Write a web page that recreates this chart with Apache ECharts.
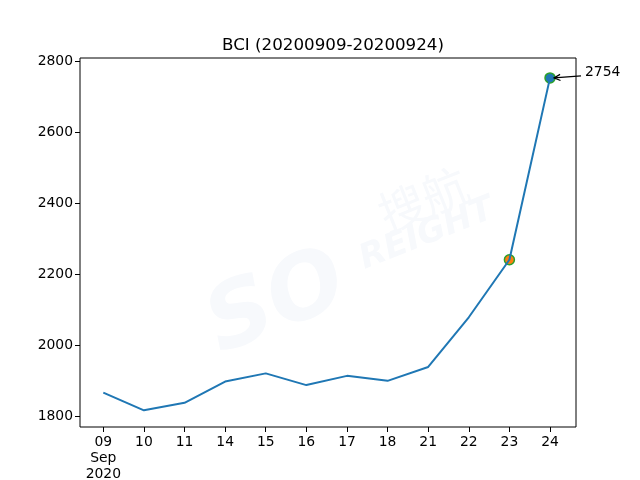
<!DOCTYPE html>
<html>
<head>
<meta charset="utf-8">
<script src="https://cdn.jsdelivr.net/npm/echarts@6/dist/echarts.min.js"></script>
<style>html,body{margin:0;padding:0;background:#fff;}#c{width:640px;height:480px;}</style>
</head>
<body>
<div id="c"></div>
<script>
const categories = ['09', '10', '11', '14', '15', '16', '17', '18', '21', '22', '23', '24'];
const bciValues = [1868, 1818, 1839, 1899, 1922, 1889, 1915, 1901, 1940, 2080, 2242, 2754];
const yTicks = [1800, 2000, 2200, 2400, 2600, 2800];
const highlightIdx = [10, 11];
const annotationText = '2754';

const chart = echarts.init(document.getElementById('c'), null, {renderer: 'canvas'});
const FONT = 'DejaVu Sans';
const xIdx = categories.map((_, i) => i);

const option = {
  animation: false,
  backgroundColor: '#fff',
  title: {
    text: 'BCI (20200909-20200924)',
    left: 328, top: 32, textAlign: 'center',
    textStyle: {fontFamily: FONT, fontSize: 16.7, fontWeight: 'normal', color: '#000'}
  },
  grid: {left: 80, right: 64, top: 58, bottom: 53, show: true, borderColor: '#000', borderWidth: 1, backgroundColor: 'transparent', containLabel: false, outerBoundsMode: 'none'},
  xAxis: {
    type: 'value', min: -0.574, max: 11.64,
    splitLine: {show: false},
    axisLine: {show: false, onZero: false},
    axisTick: {show: true, inside: false, length: 5, lineStyle: {color: '#000', width: 1}, customValues: xIdx},
    axisLabel: {
      customValues: xIdx, margin: 7, color: '#000', fontFamily: FONT, fontSize: 13.9, lineHeight: 16,
      formatter: v => { const i = Math.round(v); return i === 0 ? categories[i] + '\nSep\n2020' : categories[i]; }
    }
  },
  yAxis: {
    type: 'value', min: 1771, max: 2810,
    splitLine: {show: false},
    axisLine: {show: false, onZero: false},
    axisTick: {show: true, inside: false, length: 5, lineStyle: {color: '#000', width: 1}, customValues: yTicks},
    axisLabel: {customValues: yTicks, margin: 7, color: '#000', fontFamily: FONT, fontSize: 13.9, formatter: v => String(v)}
  },
  series: [
    {
      type: 'scatter', z: 1,
      data: highlightIdx.map(i => [i, bciValues[i]]),
      symbolSize: 10,
      itemStyle: {
        color: p => p.dataIndex === 0 ? '#ff7f0e' : '#1f77b4',
        borderColor: '#2ca02c', borderWidth: 1.5, opacity: 1
      }
    },
    {
      type: 'line', z: 2,
      data: bciValues.map((v, i) => [i, v]),
      showSymbol: false, symbol: 'none',
      lineStyle: {color: '#1f77b4', width: 2},
      clip: false
    }
  ]
};
chart.setOption(option);

const last = bciValues.length - 1;
const pt = chart.convertToPixel({gridIndex: 0}, [last, bciValues[last]]);
const sx = pt[0] + 31, sy = pt[1] - 2;
const ex = pt[0] + 4, ey = pt[1];
const ang = Math.atan2(ey - sy, ex - sx);
const ah = 7, aw = 0.45;
const wm = '#f7f9fc';
chart.setOption({
  graphic: [
    {type: 'text', x: 195, y: 290, rotation: 0.38, z: -10, style: {text: 'SO', fill: wm, font: 'italic bold 90px "DejaVu Sans"'}},
    {type: 'text', x: 372, y: 195, rotation: 0.38, z: -10, style: {text: '搜航', fill: wm, font: '46px "Noto Sans CJK SC"'}},
    {type: 'text', x: 355, y: 245, rotation: 0.38, z: -10, style: {text: 'REIGHT', fill: wm, font: 'italic bold 34px "DejaVu Sans"'}},
    {type: 'line', shape: {x1: sx, y1: sy, x2: ex, y2: ey}, style: {stroke: '#000', lineWidth: 1.2}, z: 100},
    {type: 'polyline', shape: {points: [
      [ex - ah * Math.cos(ang - aw), ey - ah * Math.sin(ang - aw)],
      [ex, ey],
      [ex - ah * Math.cos(ang + aw), ey - ah * Math.sin(ang + aw)]
    ]}, style: {stroke: '#000', lineWidth: 1.2, fill: null}, z: 100},
    {type: 'text', x: sx + 4, y: sy - 3, z: 100, style: {text: annotationText, fill: '#000', font: '13.9px "DejaVu Sans"', textVerticalAlign: 'middle', verticalAlign: 'middle'}}
  ]
});
</script>
</body>
</html>
